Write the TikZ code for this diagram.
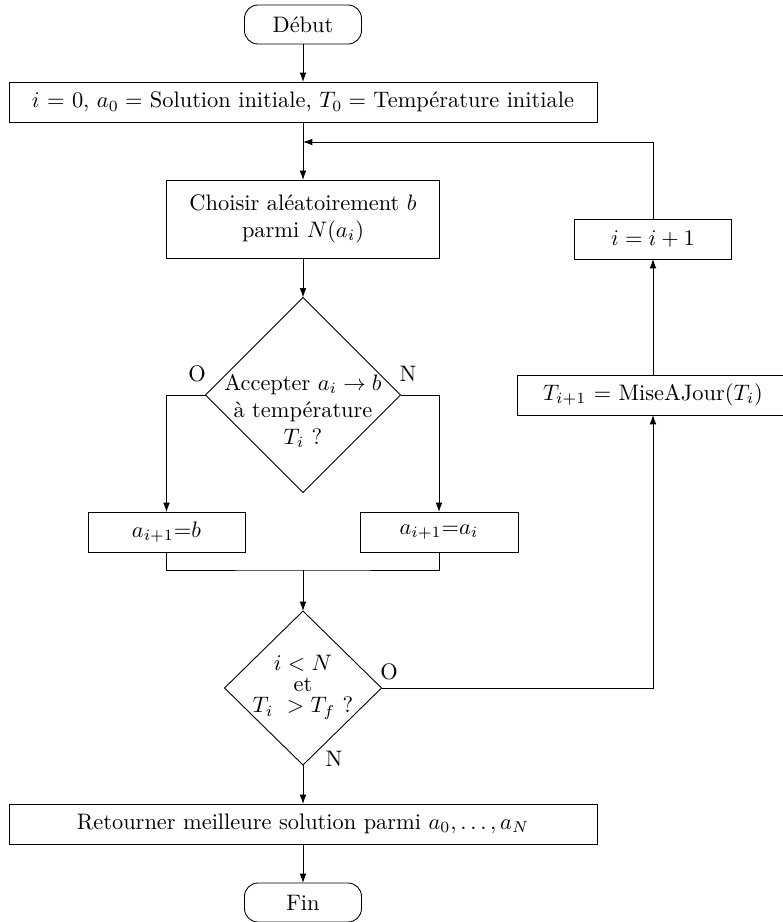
\documentclass[tikz,border=0pt]{standalone}
\usetikzlibrary{shapes.geometric,arrows.meta}
% one drawing unit = one pixel of the target raster
\newcommand\pxl[1]{#1*0.4464pt}
\begin{document}
\begin{tikzpicture}[x=0.4464pt,y=-0.4464pt,
  every node/.style={inner sep=0pt, outer sep=0pt},
  box/.style={draw, rectangle, minimum height=\pxl{40}, align=center},
  term/.style={draw, rectangle, rounded corners=6pt,
               minimum width=\pxl{117}, minimum height=\pxl{39}},
  decision/.style={draw, diamond},
  arr/.style={-{Latex[length=4.2pt,width=3pt]}}]

\useasboundingbox (0,0) rectangle (783,922);

% main column
\node[term] (start) at (303,24.5) {Début};
\node[box, minimum width=\pxl{588}] (init) at (303,102)
  {$i$ = 0, $a_0 =$ Solution initiale, $T_0 =$ Température initiale};
\node[box, minimum width=\pxl{273}, minimum height=\pxl{78}] (choose) at (303,219)
  {Choisir aléatoirement $b$\\parmi $N(a_i)$};
\node[decision, minimum width=\pxl{195}, minimum height=\pxl{195}] (accept) at (303,395) {};
\node[align=center] (accepttext) at (303,411)
  {Accepter $a_i \to b$\\à température\\$T_i$ ?};
\node[box, minimum width=\pxl{157}] (takeb) at (166.5,532) {$a_{i+1}$=$b$};
\node[box, minimum width=\pxl{158}] (keepa) at (439,532) {$a_{i+1}$=$a_i$};
\coordinate (merge) at (303,570);
\node[decision, minimum width=\pxl{157}, minimum height=\pxl{154}] (test) at (303,688) {};
\node[align=center] (testtext) at (303,687)
  {$i < N$\\[-2.5pt]et\\[-2.5pt]$T_i\ > T_f$ ?};
\node[box, minimum width=\pxl{588}] (ret) at (303,824)
  {Retourner meilleure solution parmi $a_0,\ldots,a_N$};
\node[term] (end) at (303,902.5) {Fin};

% loop column
\node[box, minimum width=\pxl{272}] (update) at (653,395) {$T_{i+1}$ = MiseAJour($T_i$)};
\node[box, minimum width=\pxl{157}] (incr) at (653,239) {$i = i + 1$};
\coordinate (loop) at (303,142);

% branch labels
\node (accO) at (197,374) {O};
\node (accN) at (408,374) {N};
\node (testO) at (389,672) {O};
\node (testN) at (334,759) {N};

% connectors
\draw[arr] (start) -- (init);
\draw[arr] (init) -- (choose);
\draw[arr] (choose) -- (accept);
\draw[arr] (accept.west) -| (takeb.north);
\draw[arr] (accept.east) -| (keepa.north);
\draw (takeb.south) |- (merge) -| (keepa.south);
\draw[arr] (merge) -- (test);
\draw[arr] (test) -- (ret);
\draw[arr] (ret) -- (end);
\draw[arr] (test.east) -| (update.south);
\draw[arr] (update) -- (incr);
\draw[arr] (incr.north) |- (loop);
\end{tikzpicture}
\end{document}
